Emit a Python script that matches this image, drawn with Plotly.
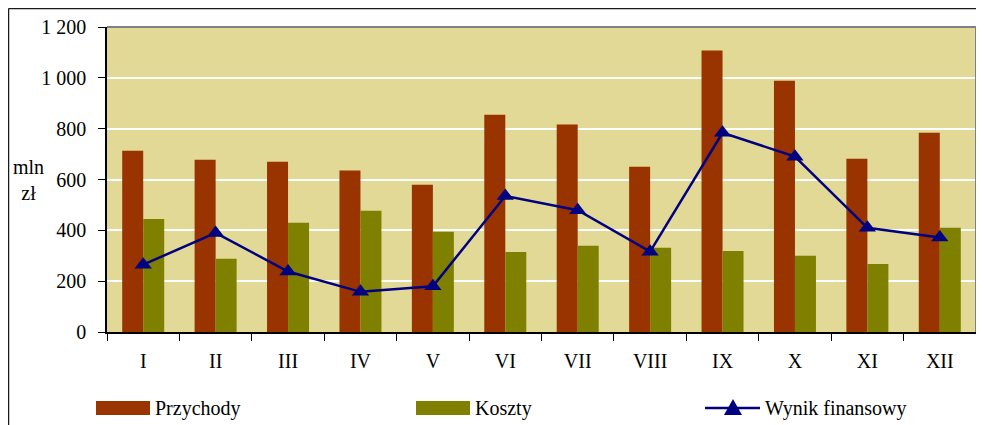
import plotly.graph_objects as go

months = ["I", "II", "III", "IV", "V", "VI", "VII", "VIII", "IX", "X", "XI", "XII"]
przychody = [713, 678, 670, 635, 579, 855, 816, 650, 1108, 989, 682, 784]
koszty = [445, 288, 430, 477, 394, 315, 339, 331, 319, 300, 268, 410]
wynik = [265, 390, 238, 158, 180, 535, 479, 316, 784, 690, 410, 372]
y_tick_vals = [0, 200, 400, 600, 800, 1000, 1200]
y_tick_labels = ["0", "200", "400", "600", "800", "1 000", "1 200"]
series_names = ["Przychody", "Koszty", "Wynik finansowy"]
axis_title = "mln<br>zł"

C_P = "#993300"
C_K = "#808000"
C_W = "#000080"
FONT = "Liberation Serif"

# page offset (browser body margin)
OFF = 8
W, H = 984 - OFF, 425 - OFF
L, R, T, B = 107 - OFF, 8, 27 - OFF, 93
PW, PH = W - L - R, H - T - B


def px(x):
    # x in page pixels
    return (x - OFF - L) / PW


def py(y):
    # y in page pixels
    return (H - B - (y - OFF)) / PH


fig = go.Figure()
fig.add_trace(go.Bar(x=months, y=przychody, name=series_names[0], marker_color=C_P,
                     marker_line_width=0))
fig.add_trace(go.Bar(x=months, y=koszty, name=series_names[1], marker_color=C_K,
                     marker_line_width=0))
fig.add_trace(go.Scatter(x=months, y=wynik, name=series_names[2], mode="lines+markers",
                         line=dict(color=C_W, width=2.5), cliponaxis=False,
                         marker=dict(symbol="triangle-up", size=15, color=C_W)))

shapes = [
    # outer chart border (top, left)
    dict(type="line", xref="paper", yref="paper", x0=px(8.5), x1=px(1000), y0=py(8.5), y1=py(8.5),
         line=dict(color="#1a1a1a", width=1.5)),
    dict(type="line", xref="paper", yref="paper", x0=px(8.5), x1=px(8.5), y0=py(8.5), y1=py(440),
         line=dict(color="#1a1a1a", width=1.5)),
    # plot area top and right border (gray)
    dict(type="line", xref="paper", yref="paper", x0=0, x1=1, y0=1, y1=1,
         line=dict(color="#808080", width=2)),
    dict(type="line", xref="paper", yref="paper", x0=1, x1=1, y0=0, y1=1,
         line=dict(color="#808080", width=2)),
]

annotations = [
    dict(text=axis_title, xref="paper", yref="paper", x=px(28), y=py(180),
         xanchor="center", yanchor="middle",
         showarrow=False, font=dict(family=FONT, size=20, color="black"), align="center"),
]

# manual legend
ly = 408
leg = [(96, 150, C_P, "bar", series_names[0]),
       (416, 470, C_K, "bar", series_names[1]),
       (705, 760, C_W, "line", series_names[2])]
for x0, x1, col, kind, name in leg:
    if kind == "bar":
        shapes.append(dict(type="rect", xref="paper", yref="paper", x0=px(x0), x1=px(x1),
                           y0=py(ly + 7), y1=py(ly - 7), fillcolor=col, line=dict(width=0)))
    else:
        shapes.append(dict(type="line", xref="paper", yref="paper", x0=px(x0), x1=px(x1),
                           y0=py(ly), y1=py(ly), line=dict(color=col, width=2.5)))
        shapes.append(dict(type="path", xref="paper", yref="paper",
                           path=f"M {px(724)} {py(ly + 7)} L {px(742)} {py(ly + 7)} L {px(733)} {py(ly - 9)} Z",
                           fillcolor=col, line=dict(width=0)))
    annotations.append(dict(text=name, xref="paper", yref="paper", x=px(x1 + 3), y=py(ly),
                            xanchor="left", yanchor="middle", showarrow=False,
                            font=dict(family=FONT, size=20, color="black")))

fig.update_layout(
    width=W, height=H,
    margin=dict(l=L, r=R, t=T, b=B, autoexpand=False),
    paper_bgcolor="white",
    plot_bgcolor="#E1D995",
    barmode="group",
    bargap=0.42,
    bargroupgap=0,
    showlegend=False,
    font=dict(family=FONT, size=20, color="black"),
    shapes=shapes,
    annotations=annotations,
    xaxis=dict(range=[-0.5, 11.5], showline=True, linecolor="black", linewidth=1.5,
               ticks="outside", tickson="boundaries", ticklen=7, tickcolor="black",
               tickwidth=1, showgrid=False, tickfont=dict(family=FONT, size=20),
               ticklabelstandoff=10, automargin=False),
    yaxis=dict(range=[0, 1200], tickvals=y_tick_vals, ticktext=y_tick_labels,
               showline=True, linecolor="black", linewidth=1.5, ticks="outside",
               ticklen=7, tickcolor="black", showgrid=True, gridcolor="white",
               gridwidth=2, zeroline=False, tickfont=dict(family=FONT, size=20),
               ticklabelstandoff=8, automargin=False),
)

fig.write_html("out.html")
